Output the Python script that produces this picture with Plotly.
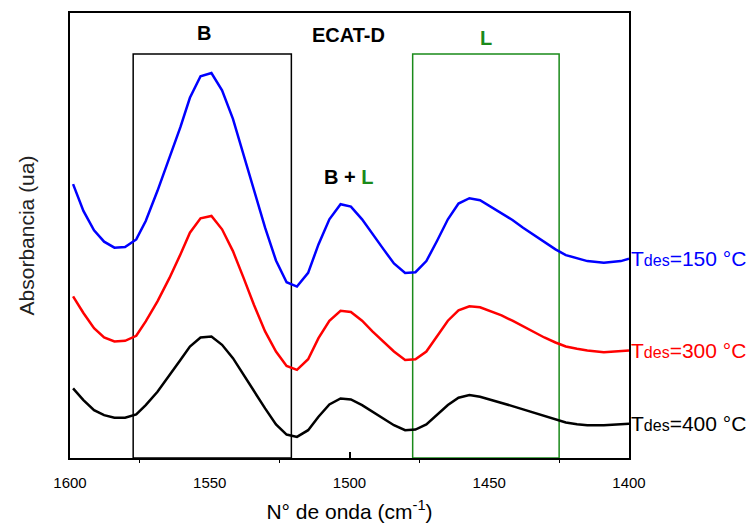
import plotly.graph_objects as go

# Wavenumber (cm-1)
wavenumber = [1598.9, 1595.2, 1591.4, 1587.8, 1584.1, 1580.3, 1576.3, 1572.9, 1568.7, 1564.4,
              1560.5, 1557.1, 1553.3, 1549.4, 1545.6, 1541.7, 1537.9, 1534.2, 1530.2, 1526.3,
              1522.5, 1518.8, 1514.8, 1511.1, 1507.2, 1503.2, 1499.5, 1495.5, 1491.8, 1487.8,
              1484.1, 1480.1, 1476.4, 1472.5, 1468.7, 1464.8, 1461.0, 1457.1, 1453.3, 1449.4,
              1445.6, 1441.7, 1437.9, 1434.0, 1430.3, 1426.3, 1422.6, 1418.6, 1414.9, 1409.0,
              1402.9, 1400.0]

# Absorbance (arbitrary units, curves offset)
abs_150 = [61.55, 55.53, 51.17, 48.61, 47.26, 47.39, 49.12, 53.26, 60.04, 67.57,
           74.34, 80.94, 85.78, 86.52, 82.61, 76.22, 68.31, 60.04, 51.75, 44.38,
           39.51, 38.52, 41.60, 48.00, 53.64, 57.03, 56.49, 53.64, 50.25, 46.88,
           43.71, 41.60, 41.75, 44.25, 48.76, 53.64, 57.17, 58.38, 57.93, 56.43,
           55.08, 53.48, 51.75, 50.11, 48.38, 46.88, 45.60, 44.83, 44.25, 43.87,
           44.25, 44.76]
abs_300 = [36.34, 32.58, 29.19, 27.08, 26.18, 26.33, 27.46, 30.70, 35.21, 40.47,
           45.75, 50.63, 53.87, 54.40, 51.39, 46.49, 40.47, 34.45, 28.45, 23.93,
           20.70, 19.80, 22.20, 26.94, 30.85, 33.10, 32.81, 30.85, 28.45, 26.18,
           23.93, 22.04, 22.20, 23.93, 27.30, 30.85, 33.19, 34.09, 33.87, 32.97,
           32.04, 30.85, 29.57, 28.29, 27.08, 25.96, 25.06, 24.54, 24.16, 23.78,
           23.93, 24.16]
abs_400 = [15.66, 13.01, 10.76, 9.64, 9.03, 9.03, 9.78, 11.89, 14.90, 18.52,
           22.04, 25.06, 27.08, 27.30, 25.44, 22.43, 18.65, 14.90, 11.15, 7.53,
           5.26, 4.74, 6.25, 9.26, 12.04, 13.39, 13.17, 11.89, 10.38, 8.88,
           7.37, 6.25, 6.40, 7.53, 9.64, 11.89, 13.55, 14.16, 13.78, 13.01,
           12.43, 11.66, 10.92, 10.16, 9.42, 8.65, 7.98, 7.60, 7.37, 7.37,
           7.53, 7.69]

series_names = ["150", "300", "400"]
series_colors = ["#0000ff", "#ff0000", "#000000"]
series_values = [abs_150, abs_300, abs_400]

# Band regions (cm-1) and box top (absorbance units)
band_B = [1577.4, 1520.8]
band_L = [1477.4, 1425.0]
band_top = 90.8

x_ticks = [1600, 1550, 1500, 1450, 1400]
minor_ticks = [1575, 1525, 1475, 1425]

FONT = "Liberation Sans, Arial, sans-serif"
GREEN = "#1a8a1a"

fig = go.Figure()
for name, color, vals in zip(series_names, series_colors, series_values):
    fig.add_trace(go.Scatter(x=wavenumber, y=vals, mode="lines",
                             line=dict(color=color, width=2.5), showlegend=False,
                             name=name))
# empty trace so the overlay axis (single inner tick at 1500) is drawn
fig.add_trace(go.Scatter(x=[1500], y=[None], xaxis="x2", mode="lines", showlegend=False,
                         hoverinfo="skip"))

# band boxes
fig.add_shape(type="rect", xref="x", yref="y", x0=band_B[0], x1=band_B[1], y0=0, y1=band_top,
              line=dict(color="black", width=1.5), layer="below")
fig.add_shape(type="rect", xref="x", yref="y", x0=band_L[0], x1=band_L[1], y0=0, y1=band_top,
              line=dict(color=GREEN, width=1.5), layer="below")

bold = dict(family=FONT, size=20, color="black")
fig.add_annotation(x=1552, y=95.5, text="<b>B</b>", showarrow=False, font=bold)
fig.add_annotation(x=1500.5, y=95.0, text="<b>ECAT-D</b>", showarrow=False, font=bold)
fig.add_annotation(x=1451, y=94.4, text="<b>L</b>", showarrow=False,
                   font=dict(family=FONT, size=20, color=GREEN))
fig.add_annotation(x=1500.5, y=63.1, text=f"<b>B + <span style='color:{GREEN}'>L</span></b>",
                   showarrow=False, font=bold)

# right-hand labels
for name, color, vals in zip(series_names, series_colors, series_values):
    fig.add_annotation(xref="paper", x=1, xanchor="left", xshift=0, y=vals[-1], yanchor="middle",
                       text=f"T<span style='font-size:16px'>des</span>={name} °C",
                       showarrow=False, font=dict(family=FONT, size=21, color=color))

fig.update_layout(
    width=746, height=525,
    margin=dict(l=70, r=117, t=13, b=67, autoexpand=False),
    plot_bgcolor="white", paper_bgcolor="white",
    font=dict(family=FONT, color="black"),
    xaxis=dict(range=[1600, 1400], tickvals=x_ticks, ticktext=[str(v) for v in x_ticks],
               ticks="outside", ticklen=10, tickcolor="rgba(0,0,0,0)",
               tickfont=dict(size=15, color="black"), automargin=False,
               showline=True, linecolor="black", linewidth=2, mirror=True,
               showgrid=False, zeroline=False,
               minor=dict(tickvals=minor_ticks, ticks="outside", ticklen=3, tickcolor="black",
                          tickwidth=1, showgrid=False),
               title=dict(text="N° de onda (cm<sup>-1</sup>)", font=dict(size=21, color="black"),
                          standoff=14)),
    yaxis=dict(range=[0, 100], showticklabels=False, ticks="", automargin=False,
               showline=True, linecolor="black", linewidth=2, mirror=True,
               showgrid=False, zeroline=False,
               title=dict(text="Absorbancia (ua)", font=dict(size=21, color="#222"), standoff=28)),
    xaxis2=dict(range=[1600, 1400], overlaying="x", side="bottom", tickvals=[1500],
                showticklabels=False, automargin=False,
                ticks="inside", ticklen=6, tickwidth=1.5, tickcolor="black",
                showline=False, showgrid=False, zeroline=False),
)

fig.write_html("out.html")
